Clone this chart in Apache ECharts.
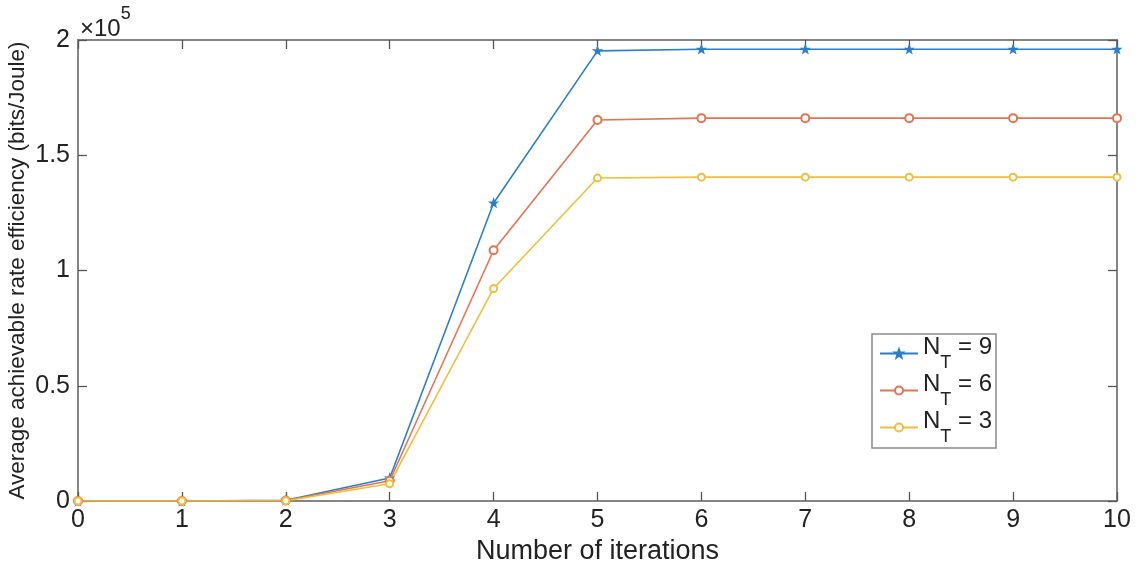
<!DOCTYPE html>
<html><head><meta charset="utf-8">
<script src="https://cdn.jsdelivr.net/npm/echarts@6/dist/echarts.min.js"></script>
<style>html,body{margin:0;padding:0;background:#fff}#c{width:1138px;height:572px}</style>
</head><body><div id="c"></div>
<script>
const iterations = [0,1,2,3,4,5,6,7,8,9,10];
const nt9 = [0,0,300,10000,129300,195300,196000,196000,196000,196000,196000];
const nt6 = [0,0,200,8800,108800,165300,166100,166100,166100,166100,166100];
const nt3 = [0,0,100,7500,92200,140100,140500,140500,140500,140500,140500];
const seriesNames = ['9','6','3'];
const yTicks = [0,50000,100000,150000,200000];

const font = 'Liberation Sans, Arial, sans-serif';
const axisGray = '#858585';
const textCol = '#222222';
const chart = echarts.init(document.getElementById('c'));
const mk = (name, data, color, symbol, size) => ({
  name: 'N' + name, type: 'line', data: iterations.map((x,i)=>[x,data[i]]),
  symbol: symbol, symbolSize: size, showSymbol: true,
  lineStyle: {color: color, width: 1.6}, itemStyle: {color: color, borderColor: color, borderWidth: 1.5},
  emphasis: {disabled: true}, animation: false
});
const tick = {show:true, inside:true, length:9, lineStyle:{color:'#555', width:1.3}};
const baseX = {type:'value', min:0, max:10, interval:1,
  axisLine:{show:true, onZero:false, lineStyle:{color:axisGray, width:2}}, splitLine:{show:false}};
const baseY = {type:'value', min:0, max:200000, interval:50000,
  axisLine:{show:true, onZero:false, lineStyle:{color:axisGray, width:2}}, splitLine:{show:false}};
chart.setOption({
  animation:false,
  grid:{left:78, right:21, top:40, bottom:71, containLabel:false, outerBoundsMode:'none'},
  xAxis:[
    Object.assign({}, baseX, {position:'bottom', axisTick:tick,
      axisLabel:{show:true, fontSize:25, color:textCol, fontFamily:font, margin:7},
      name:'Number of iterations', nameLocation:'middle', nameGap:37, nameMoveOverlap:false,
      nameTextStyle:{fontSize:27, color:textCol, fontFamily:font}}),
    Object.assign({}, baseX, {position:'top', axisTick:tick, axisLabel:{show:false}})
  ],
  yAxis:[
    Object.assign({}, baseY, {position:'left', axisTick:tick,
      axisLabel:{show:true, fontSize:25, color:textCol, fontFamily:font, margin:8,
        formatter: v => yTicks.includes(v) ? String(v/100000) : ''},
      name:'Average achievable rate efficiency (bits/Joule)', nameLocation:'middle', nameGap:49,
      nameMoveOverlap:false,
      nameTextStyle:{fontSize:22.5, color:textCol, fontFamily:font}}),
    Object.assign({}, baseY, {position:'right', axisTick:tick, axisLabel:{show:false}})
  ],
  legend:{
    orient:'vertical', left:872, top:334, width:121,
    backgroundColor:'#fff', borderColor:'#8a8a8a', borderWidth:1.5,
    padding:[1,4,2,7], itemGap:0, itemWidth:38, itemHeight:10,
    data: seriesNames.map(n=>'N'+n),
    formatter: name => '{n|N}{s|T}{n| = ' + name.slice(1) + '}',
    textStyle:{fontFamily:font, color:textCol, rich:{
      n:{fontSize:24, fontFamily:font, color:textCol, lineHeight:37, verticalAlign:'top'},
      s:{fontSize:18, fontFamily:font, color:textCol, lineHeight:37, verticalAlign:'bottom'}
    }}
  },
  graphic:[{
    type:'text', left:80, top:5,
    style:{text:'{a|×10}{b|5}', rich:{
      a:{fontSize:24, fontFamily:font, fill:textCol, verticalAlign:'bottom', lineHeight:36},
      b:{fontSize:18, fontFamily:font, fill:textCol, verticalAlign:'top', lineHeight:36}
    }}
  }],
  series:[
    mk('9', nt9, '#2a7fc8', 'path://M0,-10 L2.35,-3.24 9.51,-3.09 3.8,1.24 5.88,8.09 0,4 -5.88,8.09 -3.8,1.24 -9.51,-3.09 -2.35,-3.24 Z', 7),
    mk('6', nt6, '#e27452', 'emptyCircle', 8),
    mk('3', nt3, '#efbe3c', 'emptyCircle', 7)
  ]
});
</script></body></html>
